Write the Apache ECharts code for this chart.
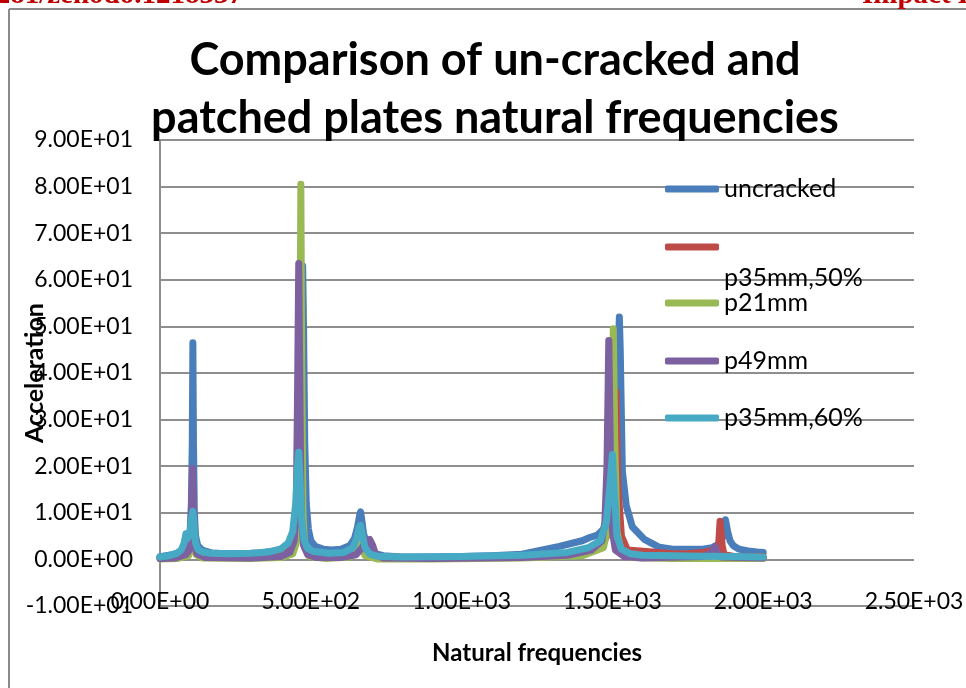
<!DOCTYPE html>
<html>
<head>
<meta charset="utf-8">
<script src="https://cdn.jsdelivr.net/npm/echarts@6/dist/echarts.min.js"></script>
<style>html,body{margin:0;padding:0;background:#fff;}#c{width:966px;height:688px;}</style>
</head>
<body>
<div id="c"></div>
<script>
// ---- data ----
const seriesNames = ['uncracked', 'p35mm,50%', 'p21mm', 'p49mm', 'p35mm,60%'];
const xTicks = [0, 500, 1000, 1500, 2000, 2500];
const yTicks = [-10, 0, 10, 20, 30, 40, 50, 60, 70, 80, 90];

const freqUncracked = [0,20,40,60,80,90,100,104,107,109,111,114,118,125,140,170,220,280,330,380,410,430,445,455,462,466,470,473,476,480,485,492,500,515,540,570,600,630,645,655,662,665,668,675,690,710,740,800,900,1000,1100,1200,1324,1400,1425,1450,1470,1490,1505,1515,1520,1523,1526,1533,1546,1566,1606,1656,1700,1750,1800,1830,1850,1862,1870,1875,1878,1882,1890,1900,1920,1950,1980,2000];
const accUncracked  = [0.6,0.8,1.0,1.4,2.2,3.2,6,12,25,46.5,25,10,5,3,2,1.4,1.2,1.2,1.4,1.8,2.4,3.4,5,9,18,35,55,63,50,25,12,6.5,4,2.8,2.2,2,2.2,3,4.5,7,9.5,10.2,9,5.5,2.5,1.3,0.8,0.5,0.5,0.6,0.8,1.1,2.8,4.0,4.7,5.2,6.5,9,14,30,45,52,45,19,11.5,7,4.3,2.6,2.2,2.2,2.2,2.5,3.2,4.2,5.5,8.5,8.5,6,4,3,2.2,1.8,1.6,1.5];

const freqP35_50 = [0,60,90,100,105,108,111,115,125,160,250,350,420,445,455,460,463,466,470,480,500,550,640,655,662,668,680,720,900,1100,1300,1400,1460,1490,1505,1512,1518,1530,1550,1612,1700,1745,1800,1840,1852,1857,1861,1864,1870,1900,2000];
const accP35_50  = [0.3,0.6,1.5,3,8,15,8,3,1.2,0.6,0.6,0.8,1.5,3,7,20,40,20,7,2.5,1.2,0.7,1,3,5,3,1,0.5,0.3,0.5,0.8,1.3,2.5,6,16,36,16,5,2,1.7,1.2,1.2,1.5,2,3,8.2,8.2,3,1,0.7,0.6];

const freqP21 = [0,60,95,103,107,110,113,120,140,300,400,440,452,460,464,467,470,474,480,495,550,630,650,658,663,668,680,720,900,1200,1400,1470,1490,1498,1503,1508,1515,1530,1560,1700,1900,2000];
const accP21  = [0.1,0.2,0.8,3,8,12,4,1,0.3,0.2,0.4,1.2,3.5,12,40,80.5,40,10,2.5,0.6,0.2,0.5,1.5,3,5.5,3,0.8,0.1,0.1,0.3,0.8,2.5,8,25,49.5,25,6,1.5,0.4,0.2,0.2,0.2];

const freqP49 = [0,50,85,97,102,105,108,111,116,122,150,300,400,430,445,452,456,460,464,468,476,490,520,600,650,670,685,695,705,715,740,900,1200,1350,1430,1465,1475,1482,1488,1494,1500,1510,1540,1600,1800,1830,1840,1846,1860,2000];
const accP49  = [0.2,0.3,1,2,5,12,19.5,10,3,1.2,0.4,0.3,0.6,1.5,4,12,35,63.5,35,10,3,1,0.4,0.4,1,2.5,4,4.3,3,1,0.3,0.2,0.4,0.9,2,4,8,20,47,20,6,2,0.6,0.3,0.6,1.5,2.8,1.5,0.5,0.3];

const freqP35_60 = [0,30,55,70,80,86,92,100,105,109,113,118,125,140,170,230,300,360,400,425,440,450,456,460,464,470,478,490,510,560,610,640,652,660,665,670,680,695,720,800,1000,1200,1350,1420,1460,1480,1492,1500,1506,1515,1530,1560,1600,1700,1800,1900,2000];
const accP35_60  = [0.5,0.8,1.3,2,3.5,5.5,4.5,6,9,10.3,7,3.5,2.2,1.6,1.3,1.2,1.3,1.6,2.2,3.5,6,12,20,23,18,8,4,2.3,1.7,1.3,1.5,2.5,4.5,6.8,7.3,5.5,2.5,1.2,0.7,0.5,0.6,0.9,1.5,2.5,4,8,16,22.5,15,5,2.2,1.2,0.9,0.8,0.7,0.6,0.5];

// ---- styling ----
const colors = ['#4A7EBB', '#BE4B48', '#98B954', '#7D60A0', '#46AAC5'];
const FONT = 'Lato';
const gridColor = '#8E8E8E';

function sci(v) {
  const s = Number(v).toExponential(2);
  const parts = s.split('e');
  const sign = parts[1][0] === '-' ? '-' : '+';
  let d = parts[1].replace(/[+-]/, '');
  if (d.length < 2) d = '0' + d;
  return parts[0] + 'E' + sign + d;
}
function zip(xs, ys) { return xs.map((x, i) => [x, ys[i]]); }

const allX = [freqUncracked, freqP35_50, freqP21, freqP49, freqP35_60];
const allY = [accUncracked, accP35_50, accP21, accP49, accP35_60];

const legendCenters = [189, 247, 303, 361, 418];
const LFS = 25;
const legends = seriesNames.map((n, i) => {
  const twoLine = (i === 1);
  return {
    data: [{ name: n, icon: 'roundRect' }],
    left: 665,
    top: twoLine ? legendCenters[i] - 45 : legendCenters[i] - 14,
    orient: 'vertical',
    padding: 0,
    itemWidth: 54,
    itemHeight: 7,
    selectedMode: false,
    formatter: twoLine ? '{g| }\n{t|' + n + '}' : n,
    textStyle: {
      fontFamily: FONT, fontSize: LFS, color: '#000', lineHeight: 28,
      rich: {
        g: { fontFamily: FONT, fontSize: LFS, lineHeight: 62, height: 62 },
        t: { fontFamily: FONT, fontSize: LFS, lineHeight: 28, color: '#000' }
      }
    }
  };
});

const chart = echarts.init(document.getElementById('c'), null, { renderer: 'canvas' });
chart.setOption({
  animation: false,
  backgroundColor: '#fff',
  color: colors,
  title: {
    text: 'Comparison of un-cracked and\npatched plates natural frequencies',
    left: 495, top: 31, textAlign: 'center', padding: 0,
    textStyle: { fontFamily: FONT, fontWeight: 'bold', fontSize: 45, lineHeight: 58, color: '#000' }
  },
  legend: legends,
  grid: { left: 160, right: 52, top: 140, bottom: 82, containLabel: false, outerBoundsMode: 'none' },
  xAxis: {
    type: 'value', min: xTicks[0], max: xTicks[xTicks.length - 1], interval: 500,
    name: 'Natural frequencies', nameLocation: 'middle', nameGap: 35, nameMoveOverlap: false,
    nameTextStyle: { fontFamily: FONT, fontWeight: 'bold', fontSize: 24, color: '#000' },
    axisLine: { onZero: false, lineStyle: { color: gridColor, width: 2 } },
    axisTick: { show: false },
    splitLine: { show: false },
    axisLabel: { formatter: sci, fontFamily: FONT, fontSize: 23, color: '#000', margin: -4, verticalAlign: 'middle', showMinLabel: true, showMaxLabel: true, hideOverlap: false }
  },
  yAxis: {
    type: 'value', min: yTicks[0], max: yTicks[yTicks.length - 1], interval: 10,
    name: 'Acceleration', nameLocation: 'middle', nameGap: 125, nameRotate: 90, nameMoveOverlap: false,
    nameTextStyle: { fontFamily: FONT, fontWeight: 'bold', fontSize: 25, color: '#000', verticalAlign: 'middle' },
    axisLine: { show: true, lineStyle: { color: gridColor, width: 2 } },
    axisTick: { show: false },
    splitLine: { show: true, lineStyle: { color: gridColor, width: 2 } },
    axisLabel: { formatter: sci, fontFamily: FONT, fontSize: 23, color: '#000', margin: 27, hideOverlap: false }
  },
  graphic: [
    { type: 'line', shape: { x1: 9, y1: 9, x2: 9, y2: 700 }, style: { stroke: '#8A8A8A', lineWidth: 2 } },
    { type: 'line', shape: { x1: 9, y1: 9, x2: 980, y2: 9 }, style: { stroke: '#8A8A8A', lineWidth: 2 } },
    { type: 'text', x: 243, y: 10, style: { text: '10.5281/zenodo.1218337', font: 'bold 29px "Liberation Serif"', fill: '#C00000', textAlign: 'right', textVerticalAlign: 'bottom' } },
    { type: 'text', x: 862, y: 10, style: { text: 'Impact Factor', font: 'bold 29px "Liberation Serif"', fill: '#C00000', textAlign: 'left', textVerticalAlign: 'bottom' } }
  ],
  series: seriesNames.map((n, i) => ({
    name: n,
    type: 'line',
    data: zip(allX[i], allY[i]),
    showSymbol: false,
    symbol: 'none',
    lineStyle: { width: 7, color: colors[i], cap: 'round', join: 'round' },
    itemStyle: { color: colors[i] },
    emphasis: { disabled: true }
  }))
});
</script>
</body>
</html>
